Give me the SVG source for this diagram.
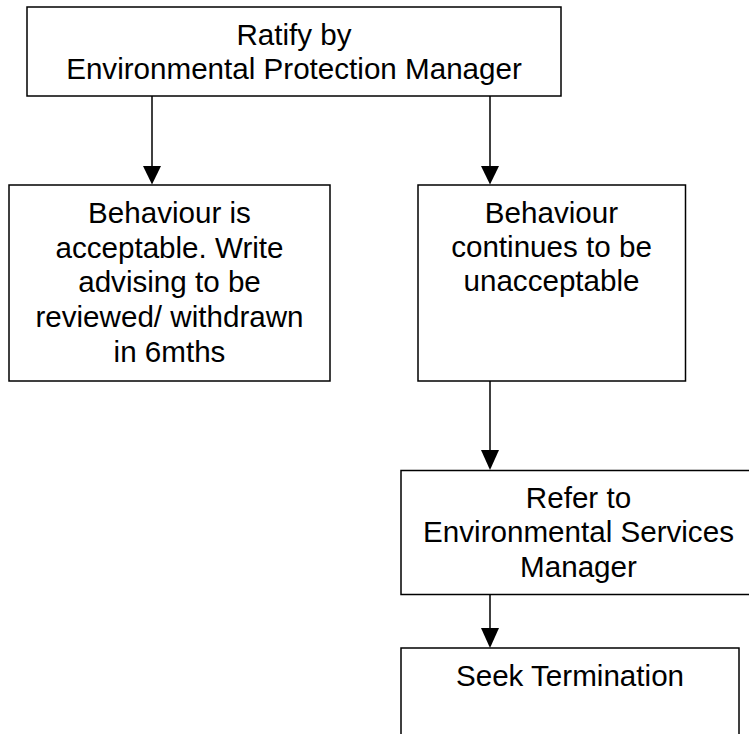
<svg xmlns="http://www.w3.org/2000/svg" width="749" height="734" viewBox="0 0 749 734">
<style>
.box{fill:#fff;stroke:#000;stroke-width:1.5}
.t{font-family:"Liberation Sans",Arial,sans-serif;font-size:29.6px;fill:#000;text-anchor:middle}
.c{stroke:#000;stroke-width:1.5;fill:none}
.ah{fill:#000}
</style>
<rect width="749" height="734" fill="#fff"/>
<g id="ratify">
<rect class="box" x="27" y="7" width="534" height="89"/>
<text class="t" x="294" y="45">Ratify by</text>
<text class="t" x="294" y="79">Environmental Protection Manager</text>
</g>
<g id="acceptable">
<rect class="box" x="9" y="185" width="321" height="196"/>
<text class="t" x="169.5" y="223">Behaviour is</text>
<text class="t" x="169.5" y="257.7">acceptable. Write</text>
<text class="t" x="169.5" y="292.4">advising to be</text>
<text class="t" x="169.5" y="327.1">reviewed/ withdrawn</text>
<text class="t" x="169.5" y="361.8">in 6mths</text>
</g>
<g id="unacceptable">
<rect class="box" x="418" y="185" width="267.5" height="196"/>
<text class="t" x="551.5" y="223">Behaviour</text>
<text class="t" x="551.5" y="257.2">continues to be</text>
<text class="t" x="551.5" y="291.4">unacceptable</text>
</g>
<g id="refer">
<rect class="box" x="401" y="470.5" width="356" height="124"/>
<text class="t" x="578.5" y="507.5">Refer to</text>
<text class="t" x="578.5" y="542.2">Environmental Services</text>
<text class="t" x="578.5" y="576.9">Manager</text>
</g>
<g id="terminate">
<rect class="box" x="401" y="648" width="338" height="100"/>
<text class="t" x="570" y="686">Seek Termination</text>
</g>
<g id="connectors">
<line class="c" x1="152" y1="96" x2="152" y2="168"/>
<polygon class="ah" points="143,166 161,166 152,184.5"/>
<line class="c" x1="490" y1="96" x2="490" y2="168"/>
<polygon class="ah" points="481,166 499,166 490,184.5"/>
<line class="c" x1="490" y1="381" x2="490" y2="452"/>
<polygon class="ah" points="481,450 499,450 490,470"/>
<line class="c" x1="490" y1="594.5" x2="490" y2="630"/>
<polygon class="ah" points="481,628 499,628 490,648"/>
</g>
</svg>
